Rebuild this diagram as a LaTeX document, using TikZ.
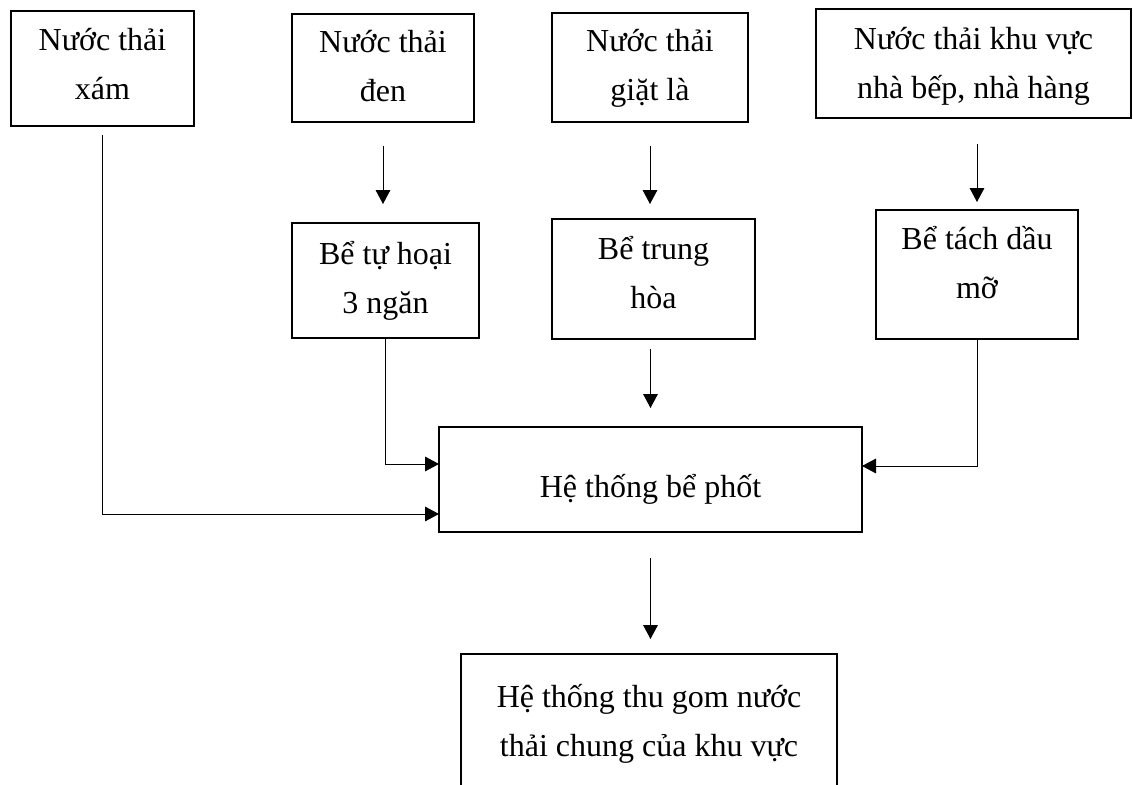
\documentclass[tikz,border=0pt]{standalone}
\usepackage{fontspec}
\setmainfont{Liberation Serif}
\usetikzlibrary{arrows.meta}

\tikzset{every picture/.style={line width=0.75pt}}
\tikzset{
  hop/.style={draw, line width=1.4pt, inner sep=0pt, outer sep=0pt, align=center, font=\fontsize{24}{36.75}\selectfont, text depth=5pt},
  tip/.style={-{Triangle[width=11pt,length=10.5pt]}}
}

\begin{document}
\begin{tikzpicture}[x=0.75pt,y=0.75pt,yscale=-1,xscale=1]
%set diagram left start at 0, and has height of 785
\useasboundingbox (0,0) rectangle (1133,785);
\clip (0,0) rectangle (1133,785);

%Shape: Rectangle (top row)
\node[hop, minimum width=137.25pt, minimum height=86.25pt, text height=50.75pt] (xam) at (102.5,68.5) {Nước thải\\xám};
\node[hop, minimum width=136.5pt, minimum height=81pt, text height=55.5pt] (den) at (383,68) {Nước thải\\đen};
\node[hop, minimum width=147pt, minimum height=81.75pt, text height=53.75pt] (giat) at (650,67.5) {Nước thải\\giặt là};
\node[hop, minimum width=236.25pt, minimum height=81.75pt, text height=57.2pt] (bep) at (973.5,63.5) {Nước thải khu vực\\nhà bếp, nhà hàng};

%Shape: Rectangle (tanks)
\node[hop, minimum width=140.25pt, minimum height=86.25pt, text height=53.75pt] (tuhoai) at (385.5,280.5) {Bể tự hoại\\3 ngăn};
\node[hop, minimum width=152.25pt, minimum height=90pt, text height=48.5pt] (trunghoa) at (653.5,279) {Bể trung\\hòa};
\node[hop, minimum width=151.5pt, minimum height=96.75pt, text height=40.7pt] (tachdau) at (977,274.5) {Bể tách dầu\\mỡ};

%Shape: Rectangle (bottom)
\node[hop, minimum width=317.25pt, minimum height=78.75pt, text height=31.25pt] (phot) at (650.5,479.5) {Hệ thống bể phốt};
\node[hop, minimum width=282pt, minimum height=109.5pt, text height=49.6pt] (thugom) at (649,727) {Hệ thống thu gom nước\\thải chung của khu vực};

%Straight Lines
\draw[tip] (xam.south |- 0,135) |- (phot.west |- 0,514);
\draw[tip] (den.south |- 0,146) -- (den.south |- 0,204);
\draw[tip] (tuhoai.south) |- (phot.west |- 0,464);
\draw[tip] (giat.south |- 0,146) -- (giat.south |- 0,204);
\draw[tip] (phot.north |- 0,349) -- (phot.north |- 0,408);
\draw[tip] (tachdau.north |- 0,144) -- (tachdau.north |- 0,202);
\draw[tip] (tachdau.south) |- (phot.east |- 0,466);
\draw[tip] (phot.south |- 0,558) -- (phot.south |- 0,639);

\end{tikzpicture}
\end{document}
